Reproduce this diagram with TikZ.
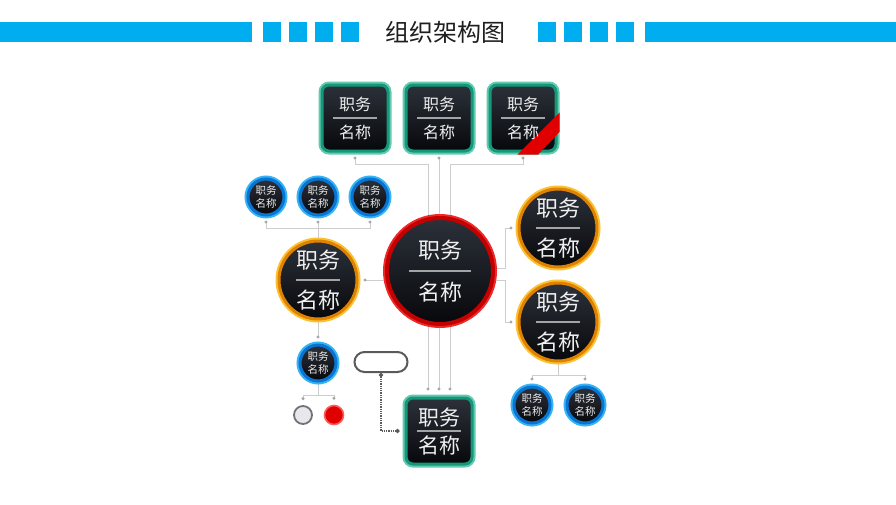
\documentclass[tikz,border=0pt]{standalone}
\usepackage{fontspec}
\newfontfamily\cjk{Noto Sans CJK SC}
\usetikzlibrary{arrows.meta,backgrounds}
\definecolor{barBlue}{HTML}{00AEEF}
\definecolor{titleInk}{HTML}{1E1E1E}
\definecolor{nodeTop}{HTML}{2C313A}
\definecolor{nodeBot}{HTML}{07080B}
\definecolor{boxRing}{HTML}{16977A}
\definecolor{boxGlow}{HTML}{62CBAE}
\definecolor{redRing}{HTML}{C40000}
\definecolor{redGlow}{HTML}{EC2A2A}
\definecolor{orangeRing}{HTML}{E08200}
\definecolor{orangeGlow}{HTML}{FAC232}
\definecolor{blueRing}{HTML}{0A74D4}
\definecolor{blueGlow}{HTML}{34B4F2}
\definecolor{linkGray}{HTML}{CDCDCD}
\definecolor{tipGray}{HTML}{A6A6A6}
\definecolor{memoGray}{HTML}{5A5A5A}
\definecolor{sepGray}{HTML}{A4A4A4}
\definecolor{ribbonRed}{HTML}{E00000}
\definecolor{pearl}{HTML}{E6E8EC}
\newcommand\dutyText[4]{%
	\node[dutytxt, font=\cjk\fontsize{#2}{#2}\selectfont] (#1-top) at ([yshift=#3]#1.center) {职务};
	\node[dutytxt, font=\cjk\fontsize{#2}{#2}\selectfont] (#1-bot) at ([yshift=-#3]#1.center) {名称};
	\draw[sepline] ([xshift=-#4]#1.center) -- ([xshift=#4]#1.center);
}
\newcommand\smallText[1]{%
	\node[smalltxt] (#1-txt) at (#1.center) {职务\\名称};
}
\tikzset{
	darkfill/.style={top color=nodeTop, bottom color=nodeBot},
	dutybox/.style={rectangle, darkfill, rounded corners=7pt, minimum size=66pt, inner sep=0pt,
		draw=boxRing, line width=3pt, preaction={draw=boxGlow, line width=7pt}},
	bigcircle/.style={circle, darkfill, minimum size=106pt, inner sep=0pt,
		draw=redRing, line width=4pt, preaction={draw=redGlow, line width=8pt}},
	midcircle/.style={circle, darkfill, minimum size=78pt, inner sep=0pt,
		draw=orangeRing, line width=3pt, preaction={draw=orangeGlow, line width=7pt}},
	smallcircle/.style={circle, darkfill, minimum size=36pt, inner sep=0pt,
		draw=blueRing, line width=3pt, preaction={draw=blueGlow, line width=7pt}},
	dutytxt/.style={text=white!94!black, inner sep=0pt},
	smalltxt/.style={text=white!92!black, inner sep=0pt, align=center, font=\cjk\fontsize{10.5}{13}\selectfont},
	sepline/.style={draw=sepGray, line width=1.6pt},
	memo/.style={rectangle, rounded corners=10pt, minimum width=53pt, minimum height=20pt, inner sep=0pt,
		draw=memoGray, line width=2pt, fill=white},
	link/.style={draw=linkGray, line width=0.7pt},
	dotend/.style={-{Circle[length=3pt, color=tipGray]}, shorten >=5pt},
	dotstart/.style={{Circle[length=3pt, color=tipGray]}-, shorten <=4pt},
	dotboth/.style={{Circle[length=3pt, color=tipGray]}-{Circle[length=3pt, color=tipGray]}, shorten <=4pt, shorten >=6pt},
	memolink/.style={draw=memoGray, line width=1.3pt, densely dotted,
		{Circle[length=4pt, color=memoGray]}-{Circle[length=4pt, color=memoGray]}, shorten >=5pt}
}
\begin{document}
\begin{tikzpicture}[x=1pt, y=-1pt]
	\useasboundingbox (0,0) rectangle (896,504);

	% header
	\fill[barBlue] (0,22) rectangle (252,42);
	\foreach \x in {263,289,315,341}{
		\fill[barBlue] (\x,22) rectangle ++(18,20);
	}
	\foreach \x in {538,564,590,616}{
		\fill[barBlue] (\x,22) rectangle ++(18,20);
	}
	\fill[barBlue] (645,22) rectangle (896,42);
	\node[text=titleInk, font=\cjk\fontsize{24}{24}\selectfont] (title) at (445,32) {组织架构图};

	% boxes
	\foreach \n/\x in {tb1/355,tb2/439,tb3/523}{
		\node[dutybox] (\n) at (\x,118) {};
	}
	\node[dutybox] (bb) at (439,431) {};
	\node[bigcircle] (cc) at (440,271) {};
	\node[midcircle] (lo) at (318,280) {};
	\node[midcircle] (ro1) at (558,228) {};
	\node[midcircle] (ro2) at (558,322) {};
	\foreach \n/\x/\y in {sb1/266/197,sb2/318/197,sb3/370/197,sb4/318/363,sb5/532/405,sb6/585/405}{
		\node[smallcircle] (\n) at (\x,\y) {};
	}
	\node[memo] (memo) at (381,362) {};
	\node[circle, minimum size=18pt, inner sep=0pt, fill=pearl, draw=memoGray!85, line width=1.8pt] (wc) at (303,415) {};
	\node[circle, minimum size=19pt, inner sep=0pt, fill=ribbonRed, draw=red!65!white, line width=1.6pt] (rc) at (334,415) {};

	% ribbon on the third box
	\begin{scope}
		\clip[rounded corners=6pt] ([xshift=-2pt,yshift=-2pt]tb3.south west) rectangle ([xshift=2pt,yshift=2pt]tb3.north east);
		\fill[ribbonRed] (564,108) -- (564,127) -- (535,158) -- (514,158) -- cycle;
	\end{scope}

	% labels
	\foreach \n in {tb1,tb2,tb3}{
		\dutyText{\n}{16}{14}{22}
	}
	\dutyText{bb}{21}{14}{22}
	\dutyText{cc}{22}{21}{31}
	\foreach \n in {lo,ro1,ro2}{
		\dutyText{\n}{22}{20}{22}
	}
	\foreach \n in {sb1,sb2,sb3,sb4,sb5,sb6}{
		\smallText{\n}
	}

	% connectors
	\begin{scope}[on background layer]
		\fill[white] (0,0) rectangle (896,504);
		\draw[link, dotboth] (tb1.south) -- ++(0,12) -| ([xshift=-11pt]bb.north);
		\draw[link, dotboth] (tb2.south) -- (bb.north);
		\draw[link, dotboth] (tb3.south) -- ++(0,12) -| ([xshift=11pt]bb.north);
		\draw[link, dotstart] (sb1.south) -- ++(0,12) -| (lo.north);
		\draw[link, dotstart] (sb2.south) -- (lo.north);
		\draw[link, dotstart] (sb3.south) -- ++(0,12) -| (lo.north);
		\draw[link, dotend] (cc.center |- lo.east) -- (lo.east);
		\draw[link, dotend] ([yshift=3pt]cc.east) -- ++(10,0) |- (ro1.west);
		\draw[link, dotend] ([yshift=-9pt]cc.east) -- ++(10,0) |- (ro2.west);
		\draw[link, dotend] (lo.south) -- (sb4.north);
		\draw[link, dotend] (sb4.south) -- ++(0,13) -| (wc.north);
		\draw[link, dotend] (sb4.south) -- ++(0,13) -| (rc.north);
		\draw[link, dotend] (ro2.south) -- ++(0,13) -| (sb5.north);
		\draw[link, dotend] (ro2.south) -- ++(0,13) -| (sb6.north);
	\end{scope}
	\draw[memolink] (memo.south) |- (bb.west);
\end{tikzpicture}
\end{document}
